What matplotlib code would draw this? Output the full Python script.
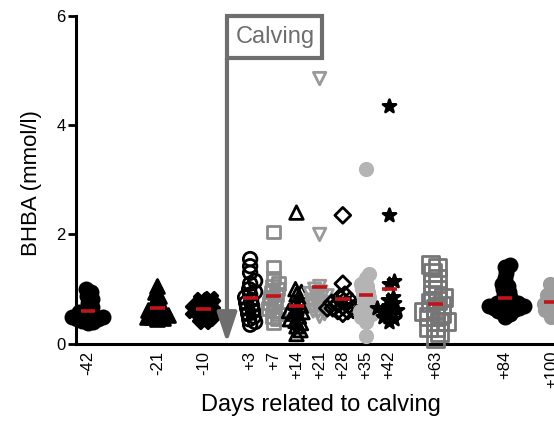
import numpy as np
import matplotlib
matplotlib.use('Agg')
import matplotlib.pyplot as plt
from matplotlib.patches import Rectangle

plt.rcParams['font.family'] = ['Liberation Sans', 'DejaVu Sans']

# sampling days and their slot on the x axis (uneven gaps like the original layout)
day_labels = ["-42", "-21", "-10", "+3", "+7", "+14", "+21", "+28", "+35", "+42", "+63", "+84", "+100"]
day_slots = [0, 3, 5, 7, 8, 9, 10, 11, 12, 13, 15, 18, 20]
calving_slot = 6

# BHBA values (mmol/l) per sampling day
bhba_m42 = [0.38, 0.40, 0.42, 0.45, 0.45, 0.48, 0.50, 0.50, 0.52, 0.55, 0.58, 0.62, 0.68, 0.75, 0.82, 0.88, 0.95, 1.00]
bhba_m21 = [0.45, 0.48, 0.50, 0.50, 0.52, 0.55, 0.58, 0.60, 0.62, 0.65, 0.70, 0.75, 0.80, 0.88, 0.95, 1.05]
bhba_m10 = [0.42, 0.48, 0.50, 0.55, 0.58, 0.60, 0.62, 0.65, 0.68, 0.70, 0.72, 0.75, 0.80, 0.82]
bhba_p3 = [0.35, 0.40, 0.45, 0.50, 0.55, 0.60, 0.65, 0.70, 0.75, 0.80, 0.85, 0.90, 0.95, 1.00, 1.10, 1.15, 1.30, 1.42, 1.55]
bhba_p7 = [0.38, 0.45, 0.50, 0.55, 0.60, 0.65, 0.70, 0.75, 0.80, 0.85, 0.90, 0.95, 1.00, 1.05, 1.10, 1.20, 1.40, 2.05]
bhba_p14 = [0.18, 0.25, 0.32, 0.38, 0.42, 0.45, 0.50, 0.55, 0.58, 0.60, 0.65, 0.70, 0.75, 0.80, 0.90, 0.95, 1.00, 2.40]
bhba_p21 = [0.50, 0.55, 0.60, 0.60, 0.65, 0.70, 0.70, 0.75, 0.75, 0.80, 0.80, 0.85, 0.88, 0.90, 0.92, 0.95, 1.00, 1.05, 2.00, 4.85]
bhba_p28 = [0.55, 0.60, 0.60, 0.62, 0.65, 0.65, 0.68, 0.70, 0.70, 0.72, 0.75, 0.78, 0.80, 0.85, 0.90, 1.10, 2.35]
bhba_p35 = [0.15, 0.40, 0.50, 0.50, 0.55, 0.60, 0.60, 0.65, 0.70, 0.75, 0.80, 0.85, 0.90, 0.95, 1.00, 1.05, 1.10, 1.20, 1.28, 3.20]
bhba_p42 = [0.40, 0.45, 0.50, 0.50, 0.55, 0.60, 0.60, 0.62, 0.65, 0.70, 0.75, 0.80, 0.85, 1.10, 1.15, 2.35, 4.35]
bhba_p63 = [0.10, 0.20, 0.30, 0.30, 0.40, 0.40, 0.50, 0.50, 0.55, 0.60, 0.65, 0.70, 0.75, 0.80, 0.85, 0.90, 1.00, 1.10, 1.20, 1.30, 1.40, 1.45]
bhba_p84 = [0.50, 0.55, 0.60, 0.60, 0.62, 0.65, 0.65, 0.68, 0.70, 0.70, 0.70, 0.72, 0.75, 0.75, 0.80, 0.85, 0.90, 0.95, 1.00, 1.05, 1.10, 1.20, 1.30, 1.40, 1.45]
bhba_p100 = [0.50, 0.55, 0.60, 0.62, 0.65, 0.68, 0.70, 0.72, 0.75, 0.80, 0.85, 0.90, 1.00, 1.05, 1.10]

groups = [bhba_m42, bhba_m21, bhba_m10, bhba_p3, bhba_p7, bhba_p14, bhba_p21,
          bhba_p28, bhba_p35, bhba_p42, bhba_p63, bhba_p84, bhba_p100]

# marker, size, face, edge, swarm spacing (px)
styles = [
    ("o", 90, "black", "black", 5.5),
    ("^", 100, "black", "black", 5.5),
    ("X", 110, "black", "black", 5.5),
    ("o", 95, "none", "black", 5.5),
    ("s", 80, "none", "#8a8a8a", 5.5),
    ("^", 95, "none", "black", 5.5),
    ("v", 80, "none", "#9a9a9a", 5.5),
    ("D", 65, "none", "black", 5.5),
    ("o", 80, "#b4b4b4", "#b4b4b4", 5.5),
    ("*", 95, "black", "black", 5.5),
    ("s", 150, "none", "#767676", 7.0),
    ("o", 90, "black", "black", 5.5),
    ("o", 80, "#9c9c9c", "#9c9c9c", 5.5),
]

PX_X = 23.2   # pixels per slot
PX_Y = 54.4   # pixels per mmol/l


def swarm(values, dist):
    # simple beeswarm: each point goes to the closest free offset
    placed = []
    offs = []
    for v in sorted(values):
        y = v * PX_Y
        cand = [0.0]
        for k in range(1, 120):
            cand += [k * 0.5, -k * 0.5]
        for c in cand:
            if all((c - px) ** 2 + (y - py) ** 2 >= dist ** 2 for px, py in placed):
                placed.append((c, y))
                offs.append(c / PX_X)
                break
    return sorted(values), offs


fig = plt.figure(figsize=(5.54, 4.24), dpi=100)
ax = fig.add_axes([0.137, 0.189, 0.90, 0.774])

for slot, vals, (mk, sz, fc, ec, gap) in zip(day_slots, groups, styles):
    ys, offs = swarm(vals, gap)
    xs = [slot + o for o in offs]
    ax.scatter(xs, ys, marker=mk, s=sz, facecolors=fc, edgecolors=ec,
               linewidths=2.0, zorder=3, clip_on=False)
    m = np.mean(vals)
    ax.hlines(m, slot - 0.32, slot + 0.32, color="#c0141a", lw=2.6, zorder=5)

# calving marker: box with label and arrow down to the axis
box_top, box_bot, box_right = 6.0, 5.22, 10.1
ax.add_patch(Rectangle((calving_slot, box_bot), box_right - calving_slot, box_top - box_bot,
                       fill=False, edgecolor="#6e6e6e", lw=3, zorder=4, clip_on=False))
ax.text(calving_slot + 0.36, (box_top + box_bot) / 2, "Calving", color="#6e6e6e",
        fontsize=17, va="center", ha="left", zorder=4)
ax.annotate("", xy=(calving_slot, 0.02), xytext=(calving_slot, box_bot),
            arrowprops=dict(arrowstyle="-|>,head_width=0.3,head_length=0.9",
                            mutation_scale=20, lw=3, color="#6e6e6e",
                            shrinkA=0, shrinkB=0), zorder=4)

ax.set_xlim(-0.52, 21)
ax.set_ylim(0, 6)
ax.set_yticks([0, 2, 4, 6])
ax.set_xticks(day_slots)
ax.set_xticklabels(day_labels, rotation=90)
ax.tick_params(axis="x", length=0, pad=5, labelsize=12)
ax.tick_params(axis="y", length=5.5, width=2, pad=2, labelsize=12)

for s in ["top", "right"]:
    ax.spines[s].set_visible(False)
ax.spines["left"].set_linewidth(2.2)
ax.spines["bottom"].set_linewidth(2.2)

ax.set_ylabel("BHBA (mmol/l)", fontsize=16)
ax.yaxis.set_label_coords(-0.068, 0.489)
ax.set_xlabel("Days related to calving", fontsize=17)
ax.xaxis.set_label_coords(0.491, -0.152)

fig.savefig("out.png", dpi=100)
